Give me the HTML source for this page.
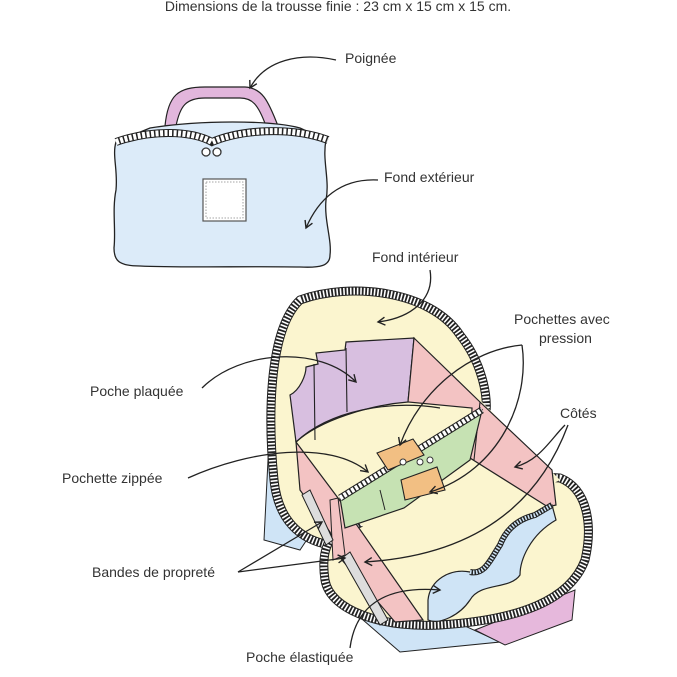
<!DOCTYPE html>
<html><head><meta charset="utf-8"><style>
html,body{margin:0;padding:0;background:#fff;}
svg{display:block;}
text{font-family:"Liberation Sans",sans-serif;font-size:14px;fill:#333;}
</style></head><body>
<svg width="677" height="677" viewBox="0 0 677 677" xmlns="http://www.w3.org/2000/svg">
<defs>
<marker id="ah" markerWidth="10" markerHeight="10" refX="8" refY="5" orient="auto" markerUnits="userSpaceOnUse">
<path d="M1,1 L8,5 L1,9" fill="none" stroke="#222" stroke-width="1.4"/>
</marker>
</defs>
<text x="338" y="11" text-anchor="middle" font-size="14">Dimensions de la trousse finie : 23 cm x 15 cm x 15 cm.</text>

<!-- top bag -->
<path d="M165,126 C168,95 178,87 205,87 L245,87 C262,88 268,100 278,126 L266,126 C258,104 252,98 240,98 L205,98 C186,98 180,106 176,126 Z" fill="#e2b6dc" stroke="#222" stroke-width="1.2"/>
<path d="M150,128 C200,120 270,120 300,128 L326,140 C322,160 330,180 326,200 C324,220 332,240 330,255 C330,266 320,268 300,267 C250,266 180,268 140,266 C118,266 114,260 114,248 C116,230 112,210 116,190 C118,170 112,155 116,142 Z" fill="#dcebf9" stroke="#222" stroke-width="1.3"/>
<path d="M116,142 C150,130 190,130 212,142 C240,130 290,126 328,140" fill="none" stroke="#222" stroke-width="8"/>
<path d="M116,142 C150,130 190,130 212,142 C240,130 290,126 328,140" fill="none" stroke="#fff" stroke-width="6" stroke-dasharray="3 1.5"/>
<circle cx="206" cy="152" r="4" fill="#fff" stroke="#333" stroke-width="1.3"/>
<circle cx="217" cy="152" r="4" fill="#fff" stroke="#333" stroke-width="1.3"/>
<rect x="203" y="179" width="43" height="42" fill="#fff" stroke="#555" stroke-width="1.2"/>
<rect x="206" y="182" width="37" height="36" fill="none" stroke="#888" stroke-width="0.8" stroke-dasharray="1.5 1.5"/>

<text x="345" y="63">Poignée</text>
<path d="M336,60 C300,52 265,60 250,88" fill="none" stroke="#222" stroke-width="1.3" marker-end="url(#ah)"/>
<text x="384" y="182">Fond extérieur</text>
<path d="M378,180 C340,178 318,200 306,228" fill="none" stroke="#222" stroke-width="1.3" marker-end="url(#ah)"/>

<!-- lower: underlays -->
<path d="M270,420 L264,540 L300,550 L320,520 Z" fill="#cfe4f6" stroke="#222" stroke-width="1"/>
<path d="M340,600 L400,652 L500,642 L430,610 Z" fill="#cfe4f6" stroke="#222" stroke-width="1"/>
<path d="M475,630 L575,590 L572,620 L505,645 Z" fill="#e6b8dc" stroke="#222" stroke-width="1"/>

<!-- lid -->
<path d="M300,300 C350,282 430,290 460,335 C480,360 490,395 485,420 L470,470 L330,545 C300,540 278,520 274,480 C268,420 268,330 300,300 Z" fill="#fbf5cf" stroke="#222" stroke-width="9"/>
<path d="M300,300 C350,282 430,290 460,335 C480,360 490,395 485,420 L470,470 L330,545 C300,540 278,520 274,480 C268,420 268,330 300,300 Z" fill="none" stroke="#fff" stroke-width="7" stroke-dasharray="1.6 1.8"/>
<!-- base -->
<path d="M330,540 C360,520 460,470 560,478 C590,490 592,530 585,560 C570,600 520,620 440,625 C380,628 330,610 325,580 C322,560 325,548 330,540 Z" fill="#fbf5cf" stroke="#222" stroke-width="9"/>
<path d="M330,540 C360,520 460,470 560,478 C590,490 592,530 585,560 C570,600 520,620 440,625 C380,628 330,610 325,580 C322,560 325,548 330,540 Z" fill="none" stroke="#fff" stroke-width="7" stroke-dasharray="1.6 1.8"/>
<path d="M290,400 C330,380 450,380 480,400 L560,480 C520,500 440,520 400,560 L300,470 Z" fill="#fbf5cf"/>

<!-- purple pocket -->
<path d="M290,395 C300,390 306,375 306,367 L318,364 L316,353 L345,350 L346,342 L414,338 L408,402 C370,405 320,420 296,442 Z" fill="#d8bfe0" stroke="#222" stroke-width="1.2"/>
<path d="M314,364 L315,440 M346,348 L347,412" stroke="#222" stroke-width="1.1" fill="none"/>
<path d="M296,442 C330,410 390,400 440,408" fill="none" stroke="#222" stroke-width="1.2"/>
<!-- right pink side -->
<path d="M414,338 L480,402 L552,470 L556,505 L548,507 L470,458 L472,408 L408,402 Z" fill="#f3c3c3" stroke="#222" stroke-width="1.2"/>
<path d="M480,402 L474,460" stroke="#222" stroke-width="1.1"/>
<!-- left pink strip -->
<path d="M296,442 L338,498 L423,620 L395,622 L342,560 L330,532 L300,490 Z" fill="#f3c3c3" stroke="#222" stroke-width="1.2"/>
<path d="M330,500 L338,498 L345,555 L333,560 Z" fill="#f3c3c3" stroke="#222" stroke-width="1"/>
<!-- gray band -->
<path d="M302,495 L310,490 L333,540 L326,545 Z M342,558 L350,552 L388,620 L380,625 Z" fill="#ddd" stroke="#222" stroke-width="1"/>
<!-- green pocket -->
<path d="M340,498 L482,410 L470,460 L404,508 L345,528 Z" fill="#c6e2b3" stroke="#222" stroke-width="1.2"/>
<path d="M340,498 L482,410" stroke="#222" stroke-width="7"/>
<path d="M340,498 L482,410" stroke="#fff" stroke-width="5" stroke-dasharray="3 1.5"/>
<path d="M380,490 L385,510" stroke="#222" stroke-width="1"/>
<!-- orange tabs -->
<path d="M377,453 L413,439 L424,455 L388,470 Z" fill="#f2bf83" stroke="#222" stroke-width="1.1"/>
<path d="M401,480 L437,467 L445,490 L405,500 Z" fill="#f2bf83" stroke="#222" stroke-width="1.1"/>
<circle cx="403" cy="462" r="3" fill="#fff" stroke="#333"/>
<circle cx="420" cy="462" r="3" fill="#fff" stroke="#333"/>
<circle cx="430" cy="460" r="3" fill="#fff" stroke="#333"/>
<!-- elastic pocket -->
<path d="M428,600 C430,580 450,568 470,572 C485,575 490,560 500,545 C505,532 515,520 535,515 L552,505 L556,520 C530,535 520,560 520,575 C510,590 480,582 470,600 C460,615 440,625 428,620 Z" fill="#cfe4f6" stroke="#222" stroke-width="1.2"/>
<path d="M470,572 C485,575 490,560 500,545 C505,532 515,520 535,515 L552,505" fill="none" stroke="#222" stroke-width="6"/>
<path d="M470,572 C485,575 490,560 500,545 C505,532 515,520 535,515 L552,505" fill="none" stroke="#cfe4f6" stroke-width="4" stroke-dasharray="1.5 1.5"/>

<text x="372" y="262">Fond intérieur</text>
<path d="M430,270 C435,300 410,318 378,322" fill="none" stroke="#222" stroke-width="1.3" marker-end="url(#ah)"/>
<text x="514" y="324">Pochettes avec</text>
<text x="539" y="343">pression</text>
<path d="M522,345 C470,350 420,390 400,445" fill="none" stroke="#222" stroke-width="1.3" marker-end="url(#ah)"/>
<path d="M522,345 C530,400 500,470 430,492" fill="none" stroke="#222" stroke-width="1.3" marker-end="url(#ah)"/>
<text x="560" y="418">Côtés</text>
<path d="M565,425 C550,440 540,460 515,467" fill="none" stroke="#222" stroke-width="1.3" marker-end="url(#ah)"/>
<path d="M568,425 C540,500 480,555 365,562" fill="none" stroke="#222" stroke-width="1.3" marker-end="url(#ah)"/>
<text x="90" y="396">Poche plaquée</text>
<path d="M202,388 C240,350 320,345 356,382" fill="none" stroke="#222" stroke-width="1.3" marker-end="url(#ah)"/>
<text x="62" y="483">Pochette zippée</text>
<path d="M188,478 C250,450 330,440 368,472" fill="none" stroke="#222" stroke-width="1.3" marker-end="url(#ah)"/>
<text x="92" y="577">Bandes de propreté</text>
<path d="M238,572 L322,522" fill="none" stroke="#222" stroke-width="1.3" marker-end="url(#ah)"/>
<path d="M238,572 L345,558" fill="none" stroke="#222" stroke-width="1.3" marker-end="url(#ah)"/>
<text x="246" y="662">Poche élastiquée</text>
<path d="M350,648 C355,610 380,585 440,590" fill="none" stroke="#222" stroke-width="1.3" marker-end="url(#ah)"/>
</svg>
</body></html>
